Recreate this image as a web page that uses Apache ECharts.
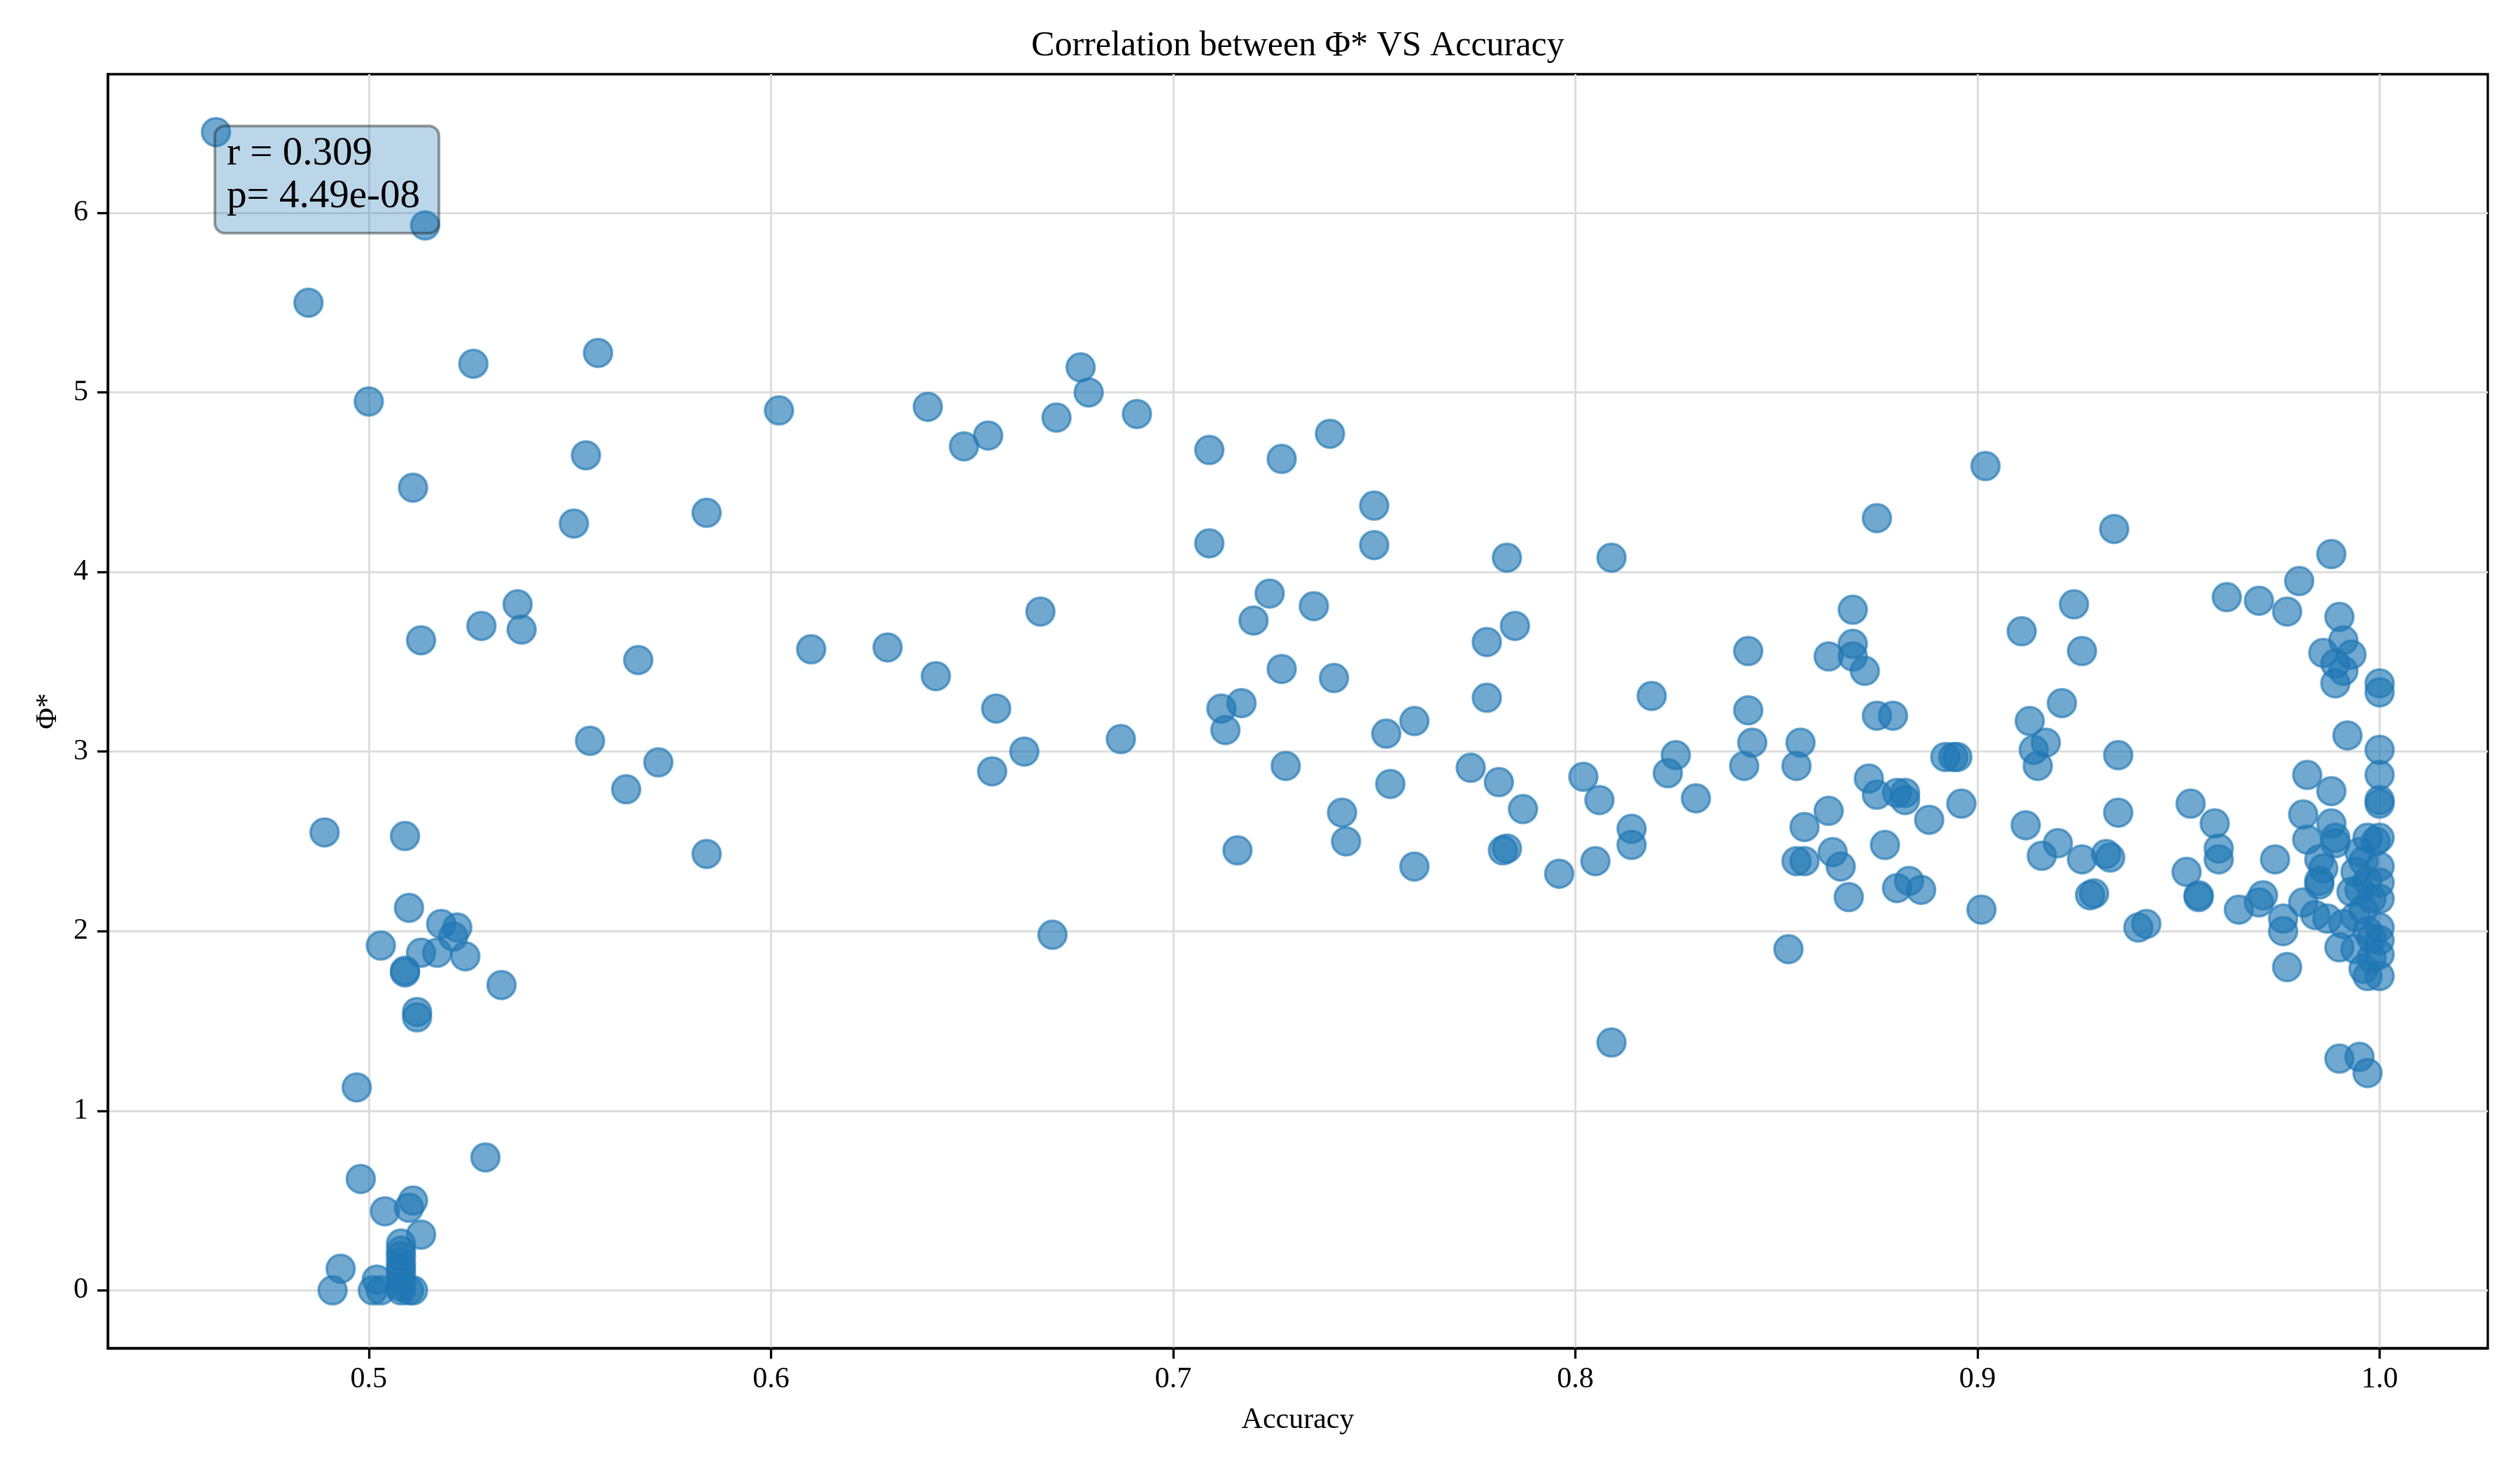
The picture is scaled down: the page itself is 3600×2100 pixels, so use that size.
<!DOCTYPE html>
<html>
<head>
<meta charset="utf-8">
<title>Correlation between Φ* VS Accuracy</title>
<script src="https://cdn.jsdelivr.net/npm/echarts@6.0.0/dist/echarts.min.js"></script>
<style>
    html, body { margin: 0; padding: 0; background: #fff; }
    #PhiVsAccuracy { width: 3600px; height: 2100px; }
</style>
</head>
<body>
<div id="PhiVsAccuracy"></div>
<script>
// [accuracy, phi*], grouped by accuracy range
const lowAccPoints = [
    [0.462, 6.45], [0.514, 5.93], [0.485, 5.50], [0.500, 4.95], [0.526, 5.16], [0.557, 5.22],
    [0.511, 4.47], [0.554, 4.65], [0.551, 4.27], [0.584, 4.33], [0.513, 3.62], [0.528, 3.70],
    [0.537, 3.82], [0.538, 3.68], [0.567, 3.51], [0.555, 3.06], [0.564, 2.79], [0.572, 2.94],
    [0.584, 2.43], [0.489, 2.55], [0.509, 2.53], [0.510, 2.13], [0.518, 2.04], [0.522, 2.02],
    [0.521, 1.97], [0.503, 1.92], [0.513, 1.88], [0.517, 1.88], [0.524, 1.86], [0.509, 1.77],
    [0.509, 1.78], [0.512, 1.55], [0.512, 1.52], [0.533, 1.70], [0.497, 1.13], [0.529, 0.74],
    [0.498, 0.62], [0.504, 0.44], [0.511, 0.50], [0.510, 0.46], [0.513, 0.31], [0.493, 0.12],
    [0.491, 0.00], [0.502, 0.06], [0.501, 0.00], [0.503, 0.00], [0.508, 0.26], [0.508, 0.22],
    [0.508, 0.19], [0.508, 0.15], [0.508, 0.12], [0.508, 0.09], [0.508, 0.05], [0.508, 0.02],
    [0.508, 0.00], [0.510, 0.00], [0.511, 0.00]
];
const midAccPoints = [
    [0.602, 4.90], [0.639, 4.92], [0.648, 4.70], [0.654, 4.76], [0.677, 5.14], [0.679, 5.00],
    [0.671, 4.86], [0.691, 4.88], [0.610, 3.57], [0.629, 3.58], [0.641, 3.42], [0.656, 3.24],
    [0.667, 3.78], [0.663, 3.00], [0.655, 2.89], [0.687, 3.07], [0.670, 1.98]
];
const upperMidAccPoints = [
    [0.709, 4.68], [0.727, 4.63], [0.739, 4.77], [0.750, 4.37], [0.709, 4.16], [0.750, 4.15],
    [0.783, 4.08], [0.809, 4.08], [0.724, 3.88], [0.720, 3.73], [0.735, 3.81], [0.778, 3.61],
    [0.785, 3.70], [0.727, 3.46], [0.740, 3.41], [0.778, 3.30], [0.819, 3.31], [0.712, 3.24],
    [0.717, 3.27], [0.713, 3.12], [0.753, 3.10], [0.760, 3.17], [0.728, 2.92], [0.754, 2.82],
    [0.774, 2.91], [0.781, 2.83], [0.787, 2.68], [0.802, 2.86], [0.806, 2.73], [0.823, 2.88],
    [0.825, 2.98], [0.830, 2.74], [0.742, 2.66], [0.743, 2.50], [0.716, 2.45], [0.760, 2.36],
    [0.782, 2.45], [0.783, 2.46], [0.796, 2.32], [0.805, 2.39], [0.814, 2.57], [0.814, 2.48],
    [0.809, 1.38]
];
const highAccPoints = [
    [0.902, 4.59], [0.875, 4.30], [0.934, 4.24], [0.869, 3.79], [0.869, 3.60], [0.863, 3.53],
    [0.869, 3.53], [0.872, 3.45], [0.843, 3.56], [0.843, 3.23], [0.844, 3.05], [0.842, 2.92],
    [0.856, 3.05], [0.855, 2.92], [0.875, 3.20], [0.879, 3.20], [0.873, 2.85], [0.875, 2.76],
    [0.880, 2.77], [0.882, 2.77], [0.882, 2.73], [0.892, 2.97], [0.894, 2.97], [0.895, 2.97],
    [0.896, 2.71], [0.888, 2.62], [0.863, 2.67], [0.857, 2.58], [0.877, 2.48], [0.855, 2.39],
    [0.857, 2.39], [0.864, 2.44], [0.866, 2.36], [0.868, 2.19], [0.880, 2.24], [0.883, 2.28],
    [0.886, 2.23], [0.853, 1.90], [0.901, 2.12], [0.911, 3.67], [0.924, 3.82], [0.926, 3.56],
    [0.921, 3.27], [0.913, 3.17], [0.917, 3.05], [0.914, 3.01], [0.915, 2.92], [0.935, 2.98],
    [0.935, 2.66], [0.912, 2.59], [0.920, 2.49], [0.916, 2.42], [0.926, 2.40], [0.932, 2.43],
    [0.933, 2.41], [0.928, 2.20], [0.929, 2.21], [0.940, 2.02], [0.942, 2.04]
];
const topAccPoints = [
    [0.988, 4.10], [0.980, 3.95], [0.962, 3.86], [0.970, 3.84], [0.977, 3.78], [0.990, 3.75],
    [0.991, 3.62], [0.986, 3.55], [0.993, 3.54], [0.989, 3.49], [0.991, 3.45], [0.989, 3.38],
    [1.000, 3.38], [1.000, 3.33], [0.992, 3.09], [1.000, 3.01], [1.000, 2.87], [1.000, 2.73],
    [1.000, 2.71], [0.982, 2.87], [0.988, 2.78], [0.981, 2.65], [0.953, 2.71], [0.959, 2.60],
    [0.960, 2.46], [0.960, 2.40], [0.952, 2.33], [0.955, 2.20], [0.955, 2.19], [0.965, 2.12],
    [0.970, 2.16], [0.971, 2.20], [0.974, 2.40], [0.976, 2.07], [0.976, 2.00], [0.977, 1.80],
    [0.982, 2.51], [0.988, 2.60], [0.989, 2.52], [0.989, 2.49], [0.985, 2.40], [0.986, 2.35],
    [0.985, 2.28], [0.985, 2.26], [0.981, 2.16], [0.984, 2.09], [0.987, 2.07], [0.991, 2.04],
    [0.990, 1.91], [0.997, 2.52], [0.999, 2.50], [1.000, 2.52], [1.000, 2.36], [1.000, 2.27],
    [1.000, 2.18], [1.000, 2.02], [1.000, 1.95], [1.000, 1.87], [1.000, 1.75], [0.996, 1.79],
    [0.997, 1.75], [0.994, 1.90], [0.995, 2.44], [0.996, 2.39], [0.994, 2.33], [0.997, 2.28],
    [0.995, 2.23], [0.998, 2.18], [0.996, 2.12], [0.994, 2.08], [0.997, 2.00], [0.998, 1.96],
    [0.998, 1.85], [0.993, 2.22], [0.990, 1.29], [0.995, 1.30], [0.997, 1.21]
];

const xTicks = [0.5, 0.6, 0.7, 0.8, 0.9, 1.0];
const yTicks = [0, 1, 2, 3, 4, 5, 6];
const statLines = ['r = 0.309', 'p= 4.49e-08'];

const points = [].concat(lowAccPoints, midAccPoints, upperMidAccPoints, highAccPoints, topAccPoints);

// matplotlib-style 5% margins around the data
const xs = points.map(p => p[0]);
const ys = points.map(p => p[1]);
const xPad = (Math.max(...xs) - Math.min(...xs)) * 0.05;
const yPad = (Math.max(...ys) - Math.min(...ys)) * 0.05;

const font = 'Liberation Serif';
const myChart = echarts.init(document.getElementById('PhiVsAccuracy'));

let option = {
    animation: false,
    backgroundColor: '#ffffff',
    title: {
        text: 'Correlation between Φ* VS Accuracy',
        left: 1854,
        top: 41,
        padding: 0,
        textAlign: 'center',
        textStyle: { fontFamily: font, fontSize: 50, fontWeight: 'normal', color: '#000', lineHeight: 50 }
    },
    grid: {
        left: 154, right: 46, top: 106, bottom: 174,
        show: true, borderColor: '#000', borderWidth: 3.3, backgroundColor: 'transparent'
    },
    xAxis: {
        type: 'value',
        min: Math.min(...xs) - xPad,
        max: Math.max(...xs) + xPad,
        name: 'Accuracy',
        nameLocation: 'middle',
        nameGap: 82,
        nameTextStyle: { fontFamily: font, fontSize: 42, color: '#000' },
        axisLine: { show: true, onZero: false, lineStyle: { color: '#000', width: 3.3 } },
        axisTick: { show: true, inside: false, length: 15, customValues: xTicks, lineStyle: { color: '#000', width: 3.3 } },
        axisLabel: {
            margin: 24, customValues: xTicks,
            fontFamily: font, fontSize: 42, color: '#000',
            formatter: v => v.toFixed(1)
        },
        splitLine: { show: true, lineStyle: { color: '#dddddd', width: 3 } }
    },
    yAxis: {
        type: 'value',
        min: Math.min(...ys) - yPad,
        max: Math.max(...ys) + yPad,
        name: 'Φ*',
        nameLocation: 'middle',
        nameGap: 64,
        nameRotate: 90,
        nameTextStyle: { fontFamily: font, fontSize: 42, color: '#000' },
        axisLine: { show: true, onZero: false, lineStyle: { color: '#000', width: 3.3 } },
        axisTick: { show: true, inside: false, length: 15, customValues: yTicks, lineStyle: { color: '#000', width: 3.3 } },
        axisLabel: {
            margin: 28, customValues: yTicks,
            fontFamily: font, fontSize: 42, color: '#000',
            formatter: v => String(Math.round(v))
        },
        splitLine: { show: true, lineStyle: { color: '#dddddd', width: 3 } }
    },
    series: [{
        type: 'scatter',
        data: points,
        symbol: 'circle',
        symbolSize: 40,
        itemStyle: {
            color: 'rgba(31,119,180,0.8)',
            borderColor: 'rgba(31,119,180,0.8)',
            borderWidth: 3.5
        },
        emphasis: { disabled: true }
    }],
    graphic: [{
        type: 'group',
        left: 305,
        top: 178,
        z: 100,
        children: [{
            type: 'rect',
            z: 100,
            shape: { x: 0, y: 0, width: 320, height: 153, r: 14 },
            style: { fill: 'rgba(31,119,180,0.3)', stroke: 'rgba(40,40,40,0.45)', lineWidth: 4 }
        }, {
            type: 'text',
            z: 101,
            x: 17,
            y: 10,
            style: {
                text: statLines.join('\n'),
                font: '57px "Liberation Serif"',
                lineHeight: 61,
                fill: '#000',
                verticalAlign: 'top'
            }
        }]
    }]
};
myChart.setOption(option);
</script>
</body>
</html>
